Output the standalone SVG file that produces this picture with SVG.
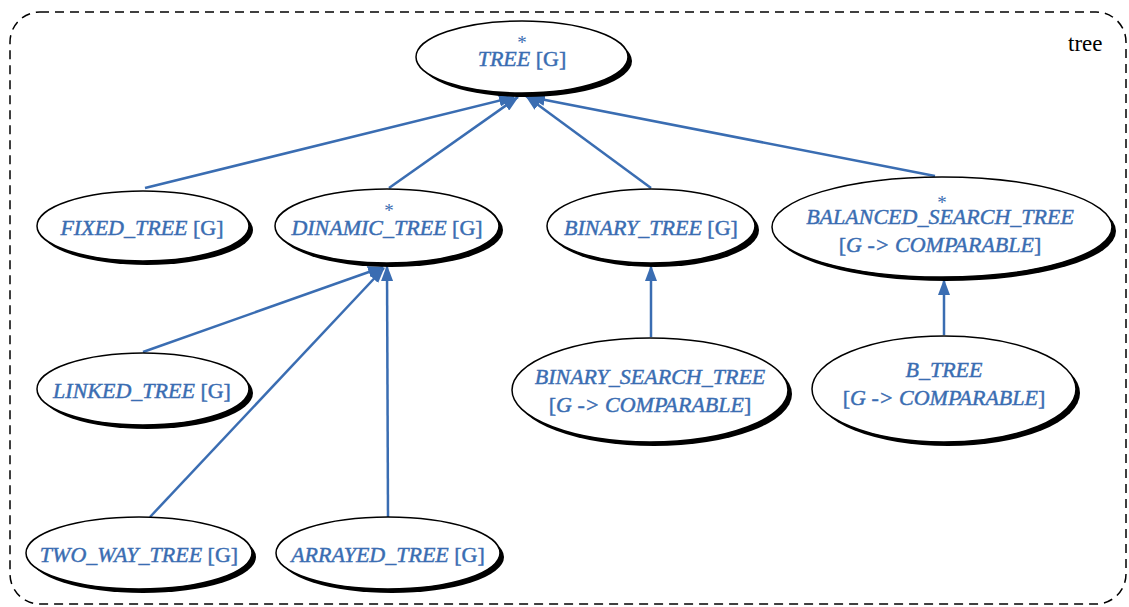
<svg xmlns="http://www.w3.org/2000/svg" width="1129" height="607" viewBox="0 0 1129 607">
  <defs>
    <marker id="arrow" viewBox="0 0 16 12" refX="15" refY="6" markerWidth="16" markerHeight="12" markerUnits="userSpaceOnUse" orient="auto">
      <path d="M0,0 L16,6 L0,12 Z" fill="#3a6db2"/>
    </marker>
  </defs>
  <style>
    .frame { fill: none; stroke: #000; stroke-width: 1.5; stroke-dasharray: 9 6; }
    .shadow { fill: #000; }
    .node { fill: #fff; stroke: #000; stroke-width: 1.5; }
    .label { font-family: "Liberation Serif", "Times New Roman", serif; font-size: 22px; fill: #3a6db2; stroke: #3a6db2; stroke-width: 0.45; text-anchor: middle; }
    .cls { font-style: italic; }
    .gen { font-style: normal; }
    .star { font-size: 19px; stroke-width: 0; }
    .edge { stroke: #3a6db2; stroke-width: 2.5; fill: none; marker-end: url(#arrow); }
    .cluster { font-family: "Liberation Serif", "Times New Roman", serif; font-size: 23px; fill: #000; }
  </style>

  <!-- cluster frame -->
  <rect class="frame" x="10" y="12" width="1116" height="592" rx="30" ry="30"/>
  <text class="cluster" x="1068" y="51">tree</text>

  <!-- inheritance edges -->
  <g id="edges">
    <line class="edge" x1="145" y1="188" x2="514" y2="97"/>
    <line class="edge" x1="389" y1="188" x2="518" y2="97"/>
    <line class="edge" x1="651" y1="188" x2="526" y2="96"/>
    <line class="edge" x1="935" y1="176" x2="530" y2="97"/>
    <line class="edge" x1="143" y1="352" x2="383" y2="267"/>
    <line class="edge" x1="150" y1="517" x2="384" y2="268"/>
    <line class="edge" x1="388" y1="517" x2="387" y2="266"/>
    <line class="edge" x1="651" y1="337" x2="651" y2="266"/>
    <line class="edge" x1="944" y1="335" x2="944" y2="280"/>
  </g>

  <!-- deferred classes carry a star above the name -->
  <g id="tree">
    <ellipse class="shadow" cx="526" cy="61" rx="106" ry="36"/>
    <ellipse class="node" cx="522" cy="57" rx="106" ry="36"/>
    <text class="label" x="522" y="49"><tspan class="star">*</tspan><tspan x="522" dy="17" class="cls">TREE</tspan><tspan class="gen"> [G]</tspan></text>
  </g>

  <g id="fixed_tree">
    <ellipse class="shadow" cx="147" cy="230" rx="106" ry="35"/>
    <ellipse class="node" cx="143" cy="226" rx="106" ry="35"/>
    <text class="label" x="142" y="235"><tspan class="cls">FIXED_TREE</tspan><tspan class="gen"> [G]</tspan></text>
  </g>

  <g id="dinamic_tree">
    <ellipse class="shadow" cx="391" cy="230" rx="112" ry="37"/>
    <ellipse class="node" cx="387" cy="226" rx="112" ry="37"/>
    <text class="label" x="389" y="217"><tspan class="star">*</tspan><tspan x="387" dy="18" class="cls">DINAMIC_TREE</tspan><tspan class="gen"> [G]</tspan></text>
  </g>

  <g id="binary_tree">
    <ellipse class="shadow" cx="655" cy="230" rx="104" ry="37"/>
    <ellipse class="node" cx="651" cy="226" rx="104" ry="37"/>
    <text class="label" x="651" y="235"><tspan class="cls">BINARY_TREE</tspan><tspan class="gen"> [G]</tspan></text>
  </g>

  <g id="balanced_search_tree">
    <ellipse class="shadow" cx="946" cy="231" rx="170" ry="50"/>
    <ellipse class="node" cx="942" cy="227" rx="170" ry="50"/>
    <text class="label" x="942" y="209"><tspan class="star">*</tspan><tspan x="940" dy="15" class="cls">BALANCED_SEARCH_TREE</tspan><tspan x="940" dy="28" class="gen">[</tspan><tspan class="cls">G -&gt; COMPARABLE</tspan><tspan class="gen">]</tspan></text>
  </g>

  <g id="linked_tree">
    <ellipse class="shadow" cx="147" cy="393" rx="106" ry="36"/>
    <ellipse class="node" cx="143" cy="389" rx="106" ry="36"/>
    <text class="label" x="142" y="398"><tspan class="cls">LINKED_TREE</tspan><tspan class="gen"> [G]</tspan></text>
  </g>

  <g id="binary_search_tree">
    <ellipse class="shadow" cx="654" cy="394" rx="138" ry="52"/>
    <ellipse class="node" cx="650" cy="390" rx="138" ry="52"/>
    <text class="label" x="650" y="384"><tspan class="cls">BINARY_SEARCH_TREE</tspan><tspan x="650" dy="28" class="gen">[</tspan><tspan class="cls">G -&gt; COMPARABLE</tspan><tspan class="gen">]</tspan></text>
  </g>

  <g id="b_tree">
    <ellipse class="shadow" cx="948" cy="393" rx="132" ry="53"/>
    <ellipse class="node" cx="944" cy="389" rx="132" ry="53"/>
    <text class="label" x="944" y="377"><tspan class="cls">B_TREE</tspan><tspan x="944" dy="28" class="gen">[</tspan><tspan class="cls">G -&gt; COMPARABLE</tspan><tspan class="gen">]</tspan></text>
  </g>

  <g id="two_way_tree">
    <ellipse class="shadow" cx="143" cy="557" rx="113" ry="36"/>
    <ellipse class="node" cx="139" cy="553" rx="113" ry="36"/>
    <text class="label" x="139" y="562"><tspan class="cls">TWO_WAY_TREE</tspan><tspan class="gen"> [G]</tspan></text>
  </g>

  <g id="arrayed_tree">
    <ellipse class="shadow" cx="392" cy="557" rx="112" ry="36"/>
    <ellipse class="node" cx="388" cy="553" rx="112" ry="36"/>
    <text class="label" x="388" y="562"><tspan class="cls">ARRAYED_TREE</tspan><tspan class="gen"> [G]</tspan></text>
  </g>
</svg>
